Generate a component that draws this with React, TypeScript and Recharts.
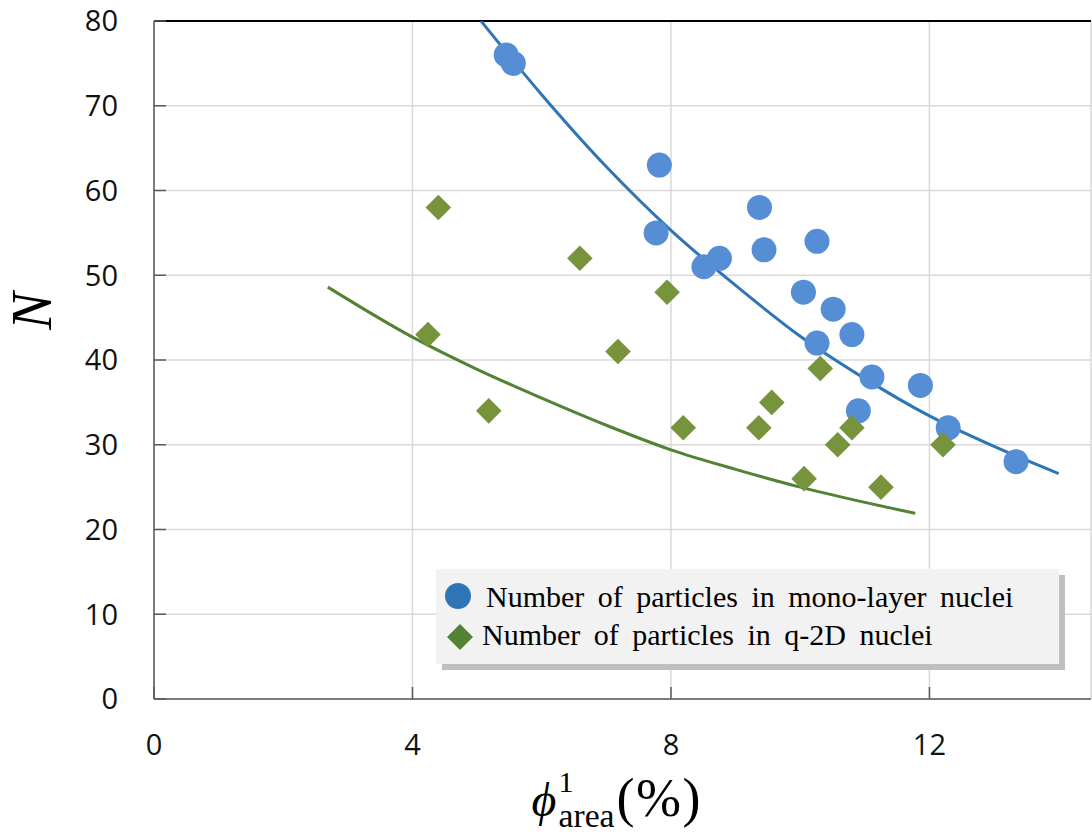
import React from "react";
import {
  ComposedChart,
  Scatter,
  Line,
  XAxis,
  YAxis,
  CartesianGrid,
  ReferenceLine,
  Legend,
  Label,
} from "recharts";

// ---- data ----
const monoX = [5.45, 5.56, 7.82, 7.77, 8.51, 8.75, 9.37, 9.44, 10.26, 10.05, 10.26, 10.51, 10.8, 11.11, 10.9, 11.86, 12.29, 13.34];
const monoY = [76, 75, 63, 55, 51, 52, 58, 53, 54, 48, 42, 46, 43, 38, 34, 37, 32, 28];

const q2dX = [4.4, 4.24, 5.18, 6.59, 7.94, 7.18, 8.19, 9.36, 9.56, 10.31, 10.8, 10.58, 10.06, 11.25, 12.21];
const q2dY = [58, 43, 34, 52, 48, 41, 32, 32, 35, 39, 32, 30, 26, 25, 30];

// trend curves
const monoTrendX = [5.06, 6, 7, 8, 9, 10, 11, 12, 13, 14];
const monoTrendY = [80, 71.3, 62.8, 55.3, 48.8, 42.8, 37.8, 33.4, 29.8, 26.6];
const q2dTrendX = [2.69, 4, 5, 6, 7, 8, 9, 10, 11, 11.78];
const q2dTrendY = [48.6, 42.7, 38.9, 35.5, 32.3, 29.4, 27.1, 25.0, 23.2, 21.9];

const xTicks = [0, 4, 8, 12];
const yTicks = [0, 10, 20, 30, 40, 50, 60, 70, 80];

const legendLabels = [
  "Number of particles in mono-layer nuclei",
  "Number of particles in q-2D nuclei",
];

const zip = (xs: number[], ys: number[]) => xs.map((x, i) => ({ x, y: ys[i] }));
const monoData = zip(monoX, monoY);
const q2dData = zip(q2dX, q2dY);
const monoTrend = zip(monoTrendX, monoTrendY);
const q2dTrend = zip(q2dTrendX, q2dTrendY);

const BLUE = "#558ED5";
const BLUE_LINE = "#2E75B6";
const GREEN = "#77933C";
const GREEN_LINE = "#548235";
const TICK_FONT = "'Open Sans', 'Noto Sans', sans-serif";
const SERIF = "'Liberation Serif', 'Times New Roman', 'DejaVu Serif', serif";

const YTick = (props: any) => {
  const { x, y, payload } = props;
  return (
    <g>
      <line x1={x} x2={x + 12} y1={y} y2={y} stroke="#595959" strokeWidth={1.5} />
      <text x={x - 36} y={y} dy="0.36em" textAnchor="end" fontFamily={TICK_FONT} fontSize={29} fill="#111">
        {payload.value}
      </text>
    </g>
  );
};

const XTick = (props: any) => {
  const { x, y, payload } = props;
  return (
    <g>
      <line x1={x} x2={x} y1={y} y2={y - 12} stroke="#595959" strokeWidth={1.5} />
      <text x={x} y={y + 46} dy="0.36em" textAnchor="middle" fontFamily={TICK_FONT} fontSize={29} fill="#111">
        {payload.value}
      </text>
    </g>
  );
};

const XLabel = (props: any) => {
  const vb = props.viewBox || { x: 154, y: 699, width: 937, height: 137 };
  const cx = vb.x + vb.width / 2;
  const by = vb.y;
  return (
    <g fontFamily={SERIF} fill="#000">
      <text x={cx - 91} y={by + 117} fontSize={48} fontStyle="italic">ϕ</text>
      <text x={cx - 64} y={by + 93} fontSize={30}>1</text>
      <text x={cx - 64} y={by + 128} fontSize={34} textLength={56} lengthAdjust="spacingAndGlyphs">area</text>
      <text x={cx - 6} y={by + 117} fontSize={54} textLength={84} lengthAdjust="spacing">(%)</text>
    </g>
  );
};

const YLabel = () => (
  <text
    x={33}
    y={311}
    dy="0.33em"
    transform="rotate(-90, 33, 311)"
    textAnchor="middle"
    fontFamily={SERIF}
    fontStyle="italic"
    fontSize={56}
    fill="#000"
  >
    N
  </text>
);

const Diamond = (props: any) => {
  const { cx, cy } = props;
  const r = 12.8;
  return <polygon points={`${cx},${cy - r} ${cx + r},${cy} ${cx},${cy + r} ${cx - r},${cy}`} fill={GREEN} />;
};

const Circle = (props: any) => {
  const { cx, cy } = props;
  return <circle cx={cx} cy={cy} r={12.5} fill={BLUE} />;
};

const LegendBox = () => (
  <svg width={632} height={104} style={{ display: "block" }}>
    <rect x={6} y={6} width={623} height={95} fill="#bfbfbf" />
    <rect x={0} y={0} width={623} height={95} fill="#f2f2f2" />
    <circle cx={22} cy={27} r={13} fill={BLUE_LINE} />
    <text x={50} y={38} fontFamily={SERIF} fontSize={30} wordSpacing={6} fill="#000">
      {legendLabels[0]}
    </text>
    <polygon points="24,55 37,68 24,81 11,68" fill={GREEN_LINE} />
    <text x={46} y={76} fontFamily={SERIF} fontSize={30} wordSpacing={6} fill="#000">
      {legendLabels[1]}
    </text>
  </svg>
);

export default function App() {
  return (
    <div style={{ position: "absolute", left: 0, top: 0, width: 1092, height: 836, background: "#fff" }}>
      <ComposedChart width={1092} height={836} margin={{ top: 21, right: 1, bottom: 0, left: 0 }}>
        <CartesianGrid stroke="#d9d9d9" strokeWidth={1.5} />
        <XAxis
          type="number"
          dataKey="x"
          domain={[0, 14.5]}
          ticks={xTicks}
          tickSize={0}
          tickMargin={0}
          height={137}
          tick={<XTick />}
          axisLine={{ stroke: "#595959", strokeWidth: 1.5 }}
          tickLine={false}
          allowDataOverflow
        >
          <Label content={<XLabel />} />
        </XAxis>
        <YAxis
          type="number"
          dataKey="y"
          domain={[0, 80]}
          ticks={yTicks}
          tickSize={0}
          tickMargin={0}
          width={154}
          tick={<YTick />}
          axisLine={{ stroke: "#595959", strokeWidth: 1.5 }}
          tickLine={false}
          allowDataOverflow
        >
          <Label content={<YLabel />} />
        </YAxis>
        <ReferenceLine y={80} stroke="#000" strokeWidth={2} />
        <Scatter data={monoData} dataKey="y" shape={<Circle />} isAnimationActive={false} legendType="none" />
        <Scatter data={q2dData} dataKey="y" shape={<Diamond />} isAnimationActive={false} legendType="none" />
        <Line data={monoTrend} dataKey="y" type="monotone" stroke={BLUE_LINE} strokeWidth={3} dot={false} activeDot={false} isAnimationActive={false} legendType="none" />
        <Line data={q2dTrend} dataKey="y" type="monotone" stroke={GREEN_LINE} strokeWidth={3} dot={false} activeDot={false} isAnimationActive={false} legendType="none" />
        <Legend
          layout="vertical"
          align="center"
          verticalAlign="middle"
          content={<LegendBox />}
          wrapperStyle={{ position: "absolute", left: 436, top: 569, width: 632, height: 104 }}
        />
      </ComposedChart>
    </div>
  );
}
